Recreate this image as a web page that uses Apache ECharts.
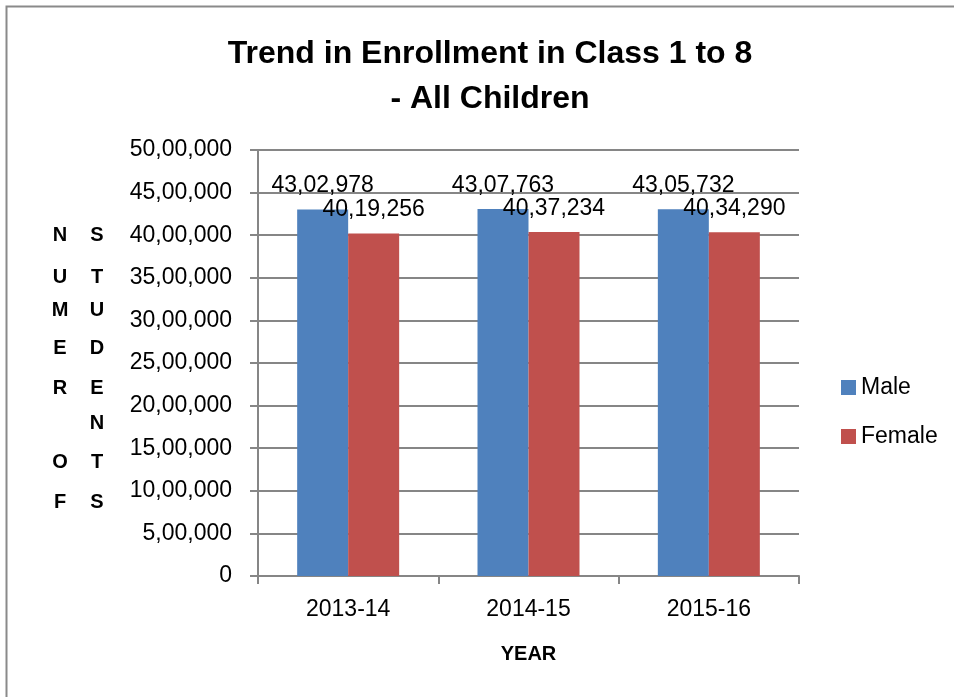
<!DOCTYPE html>
<html>
<head>
<meta charset="utf-8">
<script src="https://cdn.jsdelivr.net/npm/echarts@6/dist/echarts.min.js"></script>
<style>
html,body{margin:0;padding:0;background:#fff;}
#chart{width:954px;height:697px;}
</style>
</head>
<body>
<div id="chart"></div>
<script>
var categories = ['2013-14', '2014-15', '2015-16'];
var maleValues = [4302978, 4307763, 4305732];
var femaleValues = [4019256, 4037234, 4034290];
var seriesNames = ['Male', 'Female'];
var yAxisLetters = [
  ['N', 'S'], ['U', 'T'], ['M', 'U'], ['E', 'D'], ['R', 'E'], ['', 'N'], ['O', 'T'], ['F', 'S']
];

function indianFormat(n) {
  var s = String(Math.round(n));
  if (s.length <= 3) return s;
  var last3 = s.slice(-3);
  var rest = s.slice(0, -3).replace(/\B(?=(\d{2})+(?!\d))/g, ',');
  return rest + ',' + last3;
}

var FONT = '"Liberation Sans", Arial, sans-serif';
var letterY = [235, 277, 310, 348, 388, 423, 462, 502];
var graphics = [{
  type: 'rect', left: 4, top: 4, silent: true,
  shape: { width: 1000, height: 1000 },
  style: { fill: 'none', stroke: '#8a8a8a', lineWidth: 2 }
}];
yAxisLetters.forEach(function (pair, i) {
  [60, 97].forEach(function (x, j) {
    if (!pair[j]) return;
    graphics.push({
      type: 'text', x: x, y: letterY[i], silent: true,
      style: { text: pair[j], fill: '#000', font: 'bold 20px ' + FONT, align: 'center', verticalAlign: 'middle' }
    });
  });
});

var chart = echarts.init(document.getElementById('chart'));
var labelOpt = {
  show: true, position: 'top', distance: 12, color: '#000',
  fontFamily: FONT, fontSize: 23,
  formatter: function (p) { return indianFormat(p.value); }
};
chart.setOption({
  animation: false,
  backgroundColor: '#fff',
  title: {
    text: 'Trend in Enrollment in Class 1 to 8\n- All Children',
    left: 485, top: 27, textAlign: 'center',
    textStyle: { fontFamily: FONT, fontWeight: 'bold', fontSize: 32, lineHeight: 45, color: '#000' }
  },
  legend: {
    orient: 'vertical', left: 841, top: 376, padding: 0,
    itemWidth: 15, itemHeight: 15, itemGap: 26,
    icon: 'rect',
    textStyle: { fontFamily: FONT, fontSize: 23, color: '#000' },
    data: seriesNames
  },
  grid: { left: 258, right: 155, top: 150, bottom: 121, containLabel: false },
  xAxis: {
    type: 'category', data: categories,
    name: 'YEAR', nameLocation: 'middle', nameGap: 68,
    nameTextStyle: { fontFamily: FONT, fontWeight: 'bold', fontSize: 20, color: '#000' },
    axisLine: { lineStyle: { color: '#868686', width: 2 } },
    axisTick: { show: true, length: 8, alignWithLabel: false, lineStyle: { color: '#868686', width: 2 } },
    axisLabel: { fontFamily: FONT, fontSize: 23, color: '#000', margin: 22 }
  },
  yAxis: {
    type: 'value', min: 0, max: 5000000, interval: 500000,
    axisLine: { show: true, lineStyle: { color: '#868686', width: 2 } },
    axisTick: { show: true, length: 8, lineStyle: { color: '#868686', width: 2 } },
    splitLine: { lineStyle: { color: '#868686', width: 2 } },
    axisLabel: { fontFamily: FONT, fontSize: 23, color: '#000', margin: 26, formatter: indianFormat }
  },
  series: [
    { name: seriesNames[0], type: 'bar', data: maleValues, barWidth: 51, barGap: '0%',
      itemStyle: { color: '#4F81BD' }, label: labelOpt },
    { name: seriesNames[1], type: 'bar', data: femaleValues, barWidth: 51, barGap: '0%',
      itemStyle: { color: '#C0504D' }, label: labelOpt }
  ],
  graphic: graphics
});
</script>
</body>
</html>
